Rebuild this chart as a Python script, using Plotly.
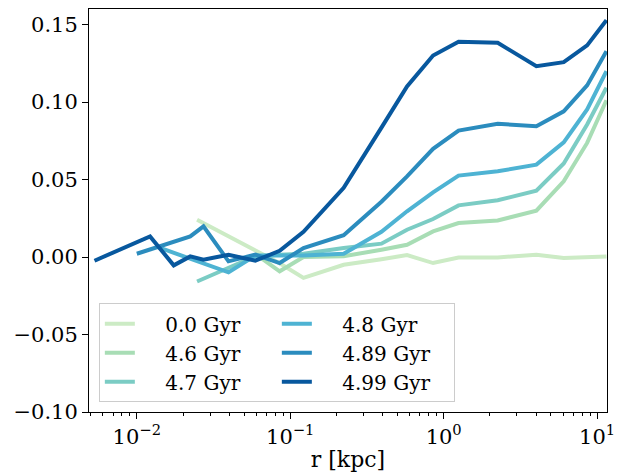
import plotly.graph_objects as go
import math

# ---- data ----
labels = ["0.0 Gyr", "4.6 Gyr", "4.7 Gyr", "4.8 Gyr", "4.89 Gyr", "4.99 Gyr"]
colors = ["#ccebc5", "#a8ddb5", "#7bccc4", "#4eb3d3", "#2b8cbe", "#08589e"]

r_00 = [0.0247, 0.0396, 0.0592, 0.0853, 0.122, 0.223, 0.393, 0.577, 0.853, 1.25, 2.25, 4.02, 6.06, 8.61, 11.5]
v_00 = [0.0240, 0.0135, 0.0043, -0.0040, -0.0135, -0.0050, -0.0014, 0.0012, -0.0039, -0.0003, -0.0003, 0.0015, -0.0006, -0.0001, 0.0004]

r_46 = [0.0592, 0.0853, 0.122, 0.223, 0.393, 0.577, 0.853, 1.25, 2.25, 4.02, 6.06, 8.61, 11.5]
v_46 = [0.0020, -0.0092, 0.0000, 0.0005, 0.0047, 0.0079, 0.0165, 0.0219, 0.0236, 0.0299, 0.0488, 0.0736, 0.1011]

r_47 = [0.0247, 0.0396, 0.0592, 0.0853, 0.122, 0.223, 0.393, 0.577, 0.853, 1.25, 2.25, 4.02, 6.06, 8.61, 11.5]
v_47 = [-0.0158, -0.0070, 0.0005, 0.0015, 0.0021, 0.0058, 0.0086, 0.0176, 0.0245, 0.0333, 0.0366, 0.0428, 0.0603, 0.0855, 0.1092]

r_48 = [0.0136, 0.0223, 0.0396, 0.0592, 0.0853, 0.122, 0.223, 0.393, 0.577, 0.853, 1.25, 2.25, 4.02, 6.06, 8.61, 11.5]
v_48 = [0.0065, -0.0012, -0.0099, 0.0010, 0.0010, 0.0010, 0.0021, 0.0163, 0.0295, 0.0417, 0.0525, 0.0553, 0.0596, 0.0740, 0.0952, 0.1199]

r_489 = [0.0100, 0.0223, 0.0272, 0.0396, 0.0592, 0.0853, 0.122, 0.223, 0.393, 0.577, 0.853, 1.25, 2.25, 4.02, 6.06, 8.61, 11.5]
v_489 = [0.0021, 0.0133, 0.0198, -0.0028, 0.0015, -0.0039, 0.0058, 0.0141, 0.0357, 0.0520, 0.0698, 0.0816, 0.0859, 0.0844, 0.0940, 0.1107, 0.1328]

r_499 = [0.0053, 0.0122, 0.0174, 0.0223, 0.0272, 0.0396, 0.0592, 0.0853, 0.122, 0.223, 0.393, 0.577, 0.853, 1.25, 2.25, 4.02, 6.06, 8.61, 11.5]
v_499 = [-0.0024, 0.0133, -0.0054, 0.0004, -0.0017, 0.0015, -0.0024, 0.0040, 0.0163, 0.0446, 0.0835, 0.1100, 0.1300, 0.1388, 0.1382, 0.1231, 0.1257, 0.1365, 0.1528]

series_r = [r_00, r_46, r_47, r_48, r_489, r_499]
series_v = [v_00, v_46, v_47, v_48, v_489, v_499]
legend_rank = [1, 3, 5, 2, 4, 6]

x_range = [0.00488, 11.6]
x_tickvals = [0.01, 0.1, 1, 10]
x_ticktext = ["10<sup>−2</sup>", "10<sup>−1</sup>", "10<sup>0</sup>", "10<sup>1</sup>"]
y_range = [-0.10, 0.16]
y_ticks = [-0.10, -0.05, 0.00, 0.05, 0.10, 0.15]

FONT = "DejaVu Serif"
PAD = "\u00a0" * 4

fig = go.Figure()
for lab, col, rr, vv, rk in zip(labels, colors, series_r, series_v, legend_rank):
    fig.add_trace(go.Scatter(x=rr, y=vv, mode="lines", name=PAD + lab,
                             line=dict(color=col, width=4), legendrank=rk))

fig.update_layout(
    width=623, height=472,
    margin=dict(l=89, r=16, t=9, b=60),
    paper_bgcolor="white", plot_bgcolor="white",
    font=dict(family=FONT, size=21, color="black"),
    showlegend=True,
    legend=dict(x=0.019, y=0.27, xanchor="left", yanchor="top",
                orientation="h", entrywidth=132, entrywidthmode="pixels",
                bgcolor="rgba(255,255,255,0.8)", bordercolor="#cccccc", borderwidth=1,
                font=dict(family=FONT, size=20), tracegroupgap=0),
    xaxis=dict(type="log", range=[math.log10(x_range[0]), math.log10(x_range[1])],
               tickvals=x_tickvals, ticktext=x_ticktext, showgrid=False, zeroline=False,
               showline=True, linecolor="black", linewidth=1, mirror=True,
               ticks="outside", ticklen=6, tickwidth=1, tickcolor="black",
               minor=dict(ticks="outside", ticklen=3, tickwidth=1, tickcolor="black", dtick="D1", showgrid=False),
               automargin=False,
               title=dict(text="r [kpc]", standoff=4, font=dict(size=22))),
    yaxis=dict(range=y_range, tickvals=y_ticks, tickformat=".2f", showgrid=False, zeroline=False,
               showline=True, linecolor="black", linewidth=1, mirror=True,
               ticks="outside", ticklen=6, tickwidth=1, tickcolor="black", automargin=False),
)

fig.write_html("out.html")
